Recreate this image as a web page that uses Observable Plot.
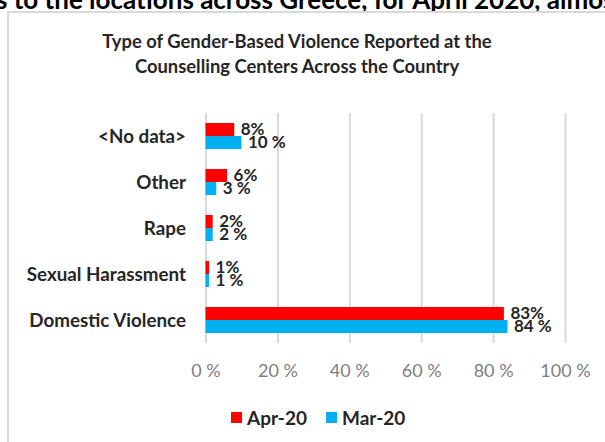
<!DOCTYPE html>
<html>
<head>
<meta charset="utf-8">
<script src="https://cdn.jsdelivr.net/npm/d3@7"></script>
<script src="https://cdn.jsdelivr.net/npm/@observablehq/plot@0.6"></script>
<style>
  html, body { margin: 0; padding: 0; background: #fff; }
  body { width: 605px; height: 442px; overflow: hidden; position: relative; font-family: Lato, "Open Sans", sans-serif; }
  #toptext { position: absolute; left: -4px; top: -14px; white-space: nowrap; font-size: 26px; font-weight: bold; color: #000; line-height: 26px; }
  #box { position: absolute; left: 7px; top: 11px; width: 640px; height: 470px; border: 2px solid #d9d9d9; box-sizing: border-box; }
  #title { position: absolute; left: 0; top: 29px; width: 594px; text-align: center; font-size: 18.4px; font-weight: bold; color: #262626; line-height: 25px; }
  #chart { position: absolute; left: 0; top: 0; }
  #legend { position: absolute; top: 406px; left: 231px; height: 22px; display: flex; align-items: center; font-size: 19px; font-weight: bold; color: #262626; }
  .sw { display: inline-block; width: 11px; height: 11px; margin-right: 5px; }
  .item { display: flex; align-items: center; margin-right: 19px; }
</style>
</head>
<body>
<div id="toptext">s to the locations across Greece, for April 2020, almost</div>
<div id="box"></div>
<div id="title">Type of Gender-Based Violence Reported at the<br>Counselling Centers Across the Country</div>
<div id="chart"></div>
<div id="legend"></div>
<script>
const categories = ["<No data>", "Other", "Rape", "Sexual Harassment", "Domestic Violence"];
const series = ["Apr-20", "Mar-20"];
const apr20 = [8, 6, 2, 1, 83];
const mar20 = [10, 3, 2, 1, 84];
const xTicks = [0, 20, 40, 60, 80, 100];
const colors = ["#ff0000", "#00b0f0"];

const rows = categories.flatMap((c, i) => [
  {cat: c, series: series[0], value: apr20[i], label: apr20[i] + "%"},
  {cat: c, series: series[1], value: mar20[i], label: mar20[i] + " %"}
]);

const chart = Plot.plot({
  width: 605,
  height: 442,
  marginLeft: 205.5,
  marginRight: 40,
  marginTop: 112,
  marginBottom: 98,
  style: {background: "transparent", fontFamily: "Lato, 'Open Sans', sans-serif", overflow: "visible"},
  x: {domain: [0, 100]},
  fy: {domain: categories, padding: 0, label: null},
  y: {domain: series, paddingInner: 0, paddingOuter: 0.72, axis: null},
  color: {domain: series, range: colors},
  marks: [
    Plot.gridX(xTicks, {stroke: "#d9d9d9", strokeOpacity: 1, strokeWidth: 2}),
    Plot.barX(rows, {x: "value", y: "series", fy: "cat", fill: "series"}),
    Plot.text(rows, {x: "value", y: "series", fy: "cat", text: "label", dx: 6, textAnchor: "start",
      fontWeight: "bold", fontSize: 17, fill: "#262626"}),
    Plot.axisX({ticks: xTicks, tickFormat: d => d + " %", tickSize: 0, tickPadding: 21,
      fontSize: 18, color: "#808080", label: null}),
    Plot.axisFy({anchor: "left", tickSize: 0, tickPadding: 20, fontSize: 18.8, fontWeight: "bold",
      color: "#262626", label: null})
  ]
});
document.getElementById("chart").appendChild(chart);

const legend = document.getElementById("legend");
series.forEach((s, i) => {
  const item = document.createElement("div");
  item.className = "item";
  const sw = document.createElement("span");
  sw.className = "sw";
  sw.style.background = colors[i];
  item.appendChild(sw);
  item.appendChild(document.createTextNode(s));
  legend.appendChild(item);
});
</script>
</body>
</html>
